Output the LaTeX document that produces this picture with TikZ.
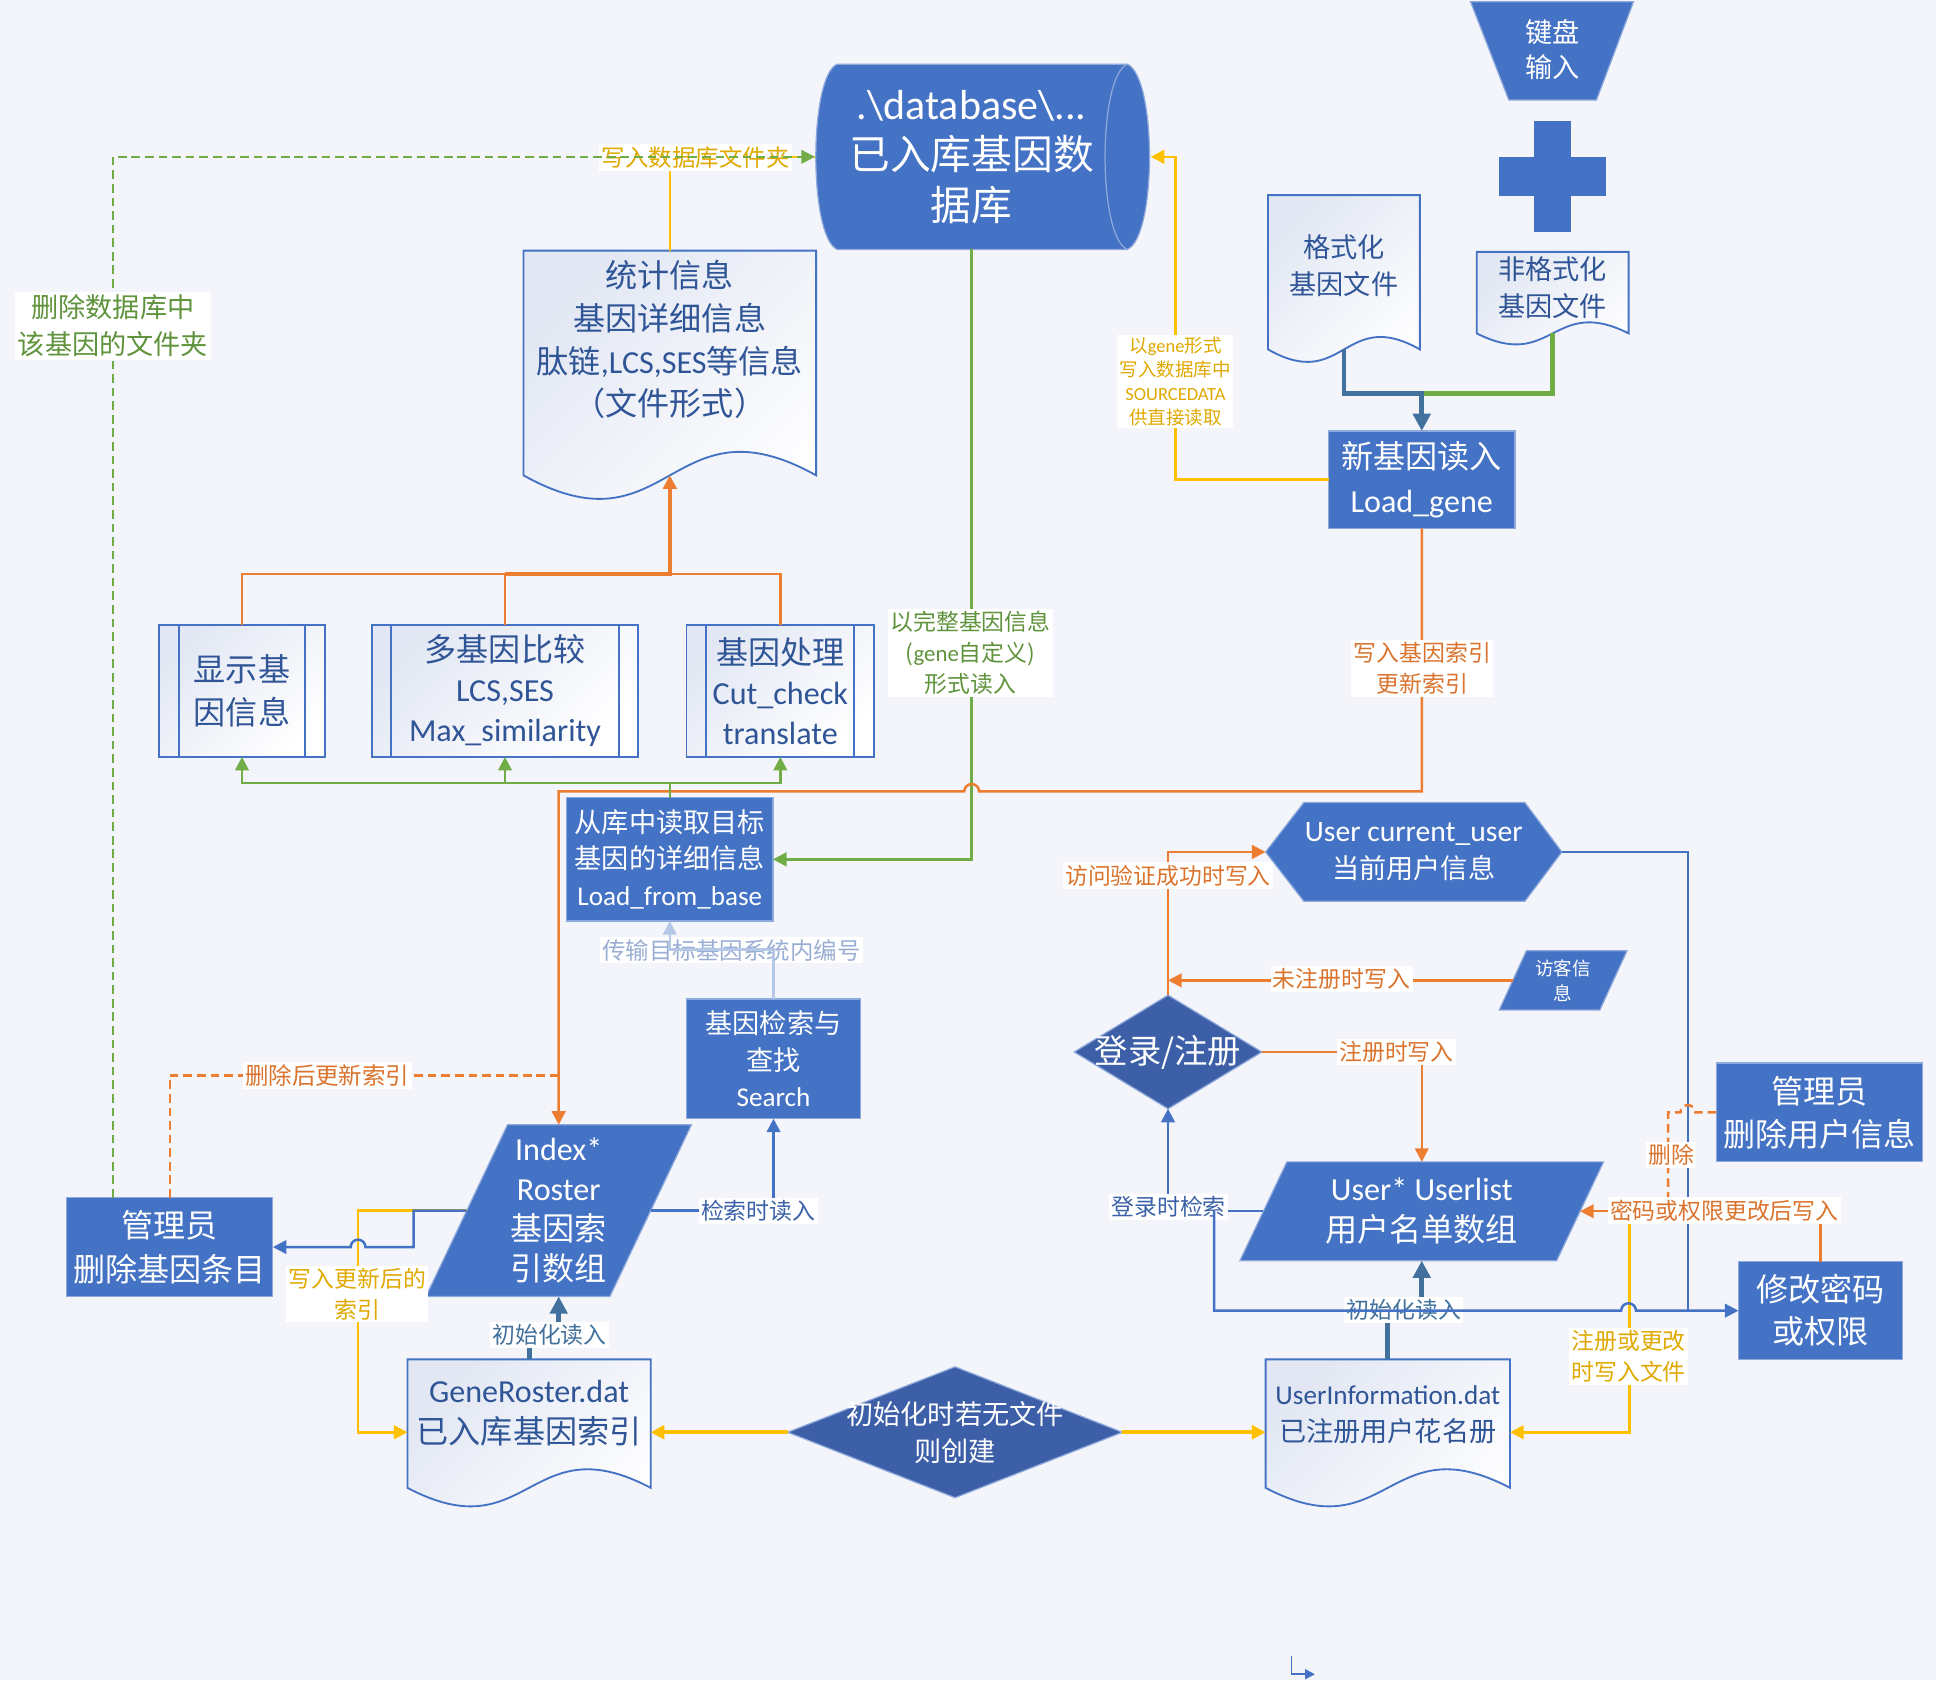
\documentclass[tikz,border=0pt]{standalone}
\usepackage{fontspec}
\setmainfont{Noto Sans CJK SC}
\newfontfamily\latf{Carlito}
\usetikzlibrary{arrows.meta,calc}
\definecolor{cblue}{HTML}{4472C4}
\definecolor{cdia}{HTML}{3D5FA7}
\definecolor{csteel}{HTML}{41719C}
\definecolor{corange}{HTML}{ED7D31}
\definecolor{cyellow}{HTML}{FFC000}
\definecolor{cgreen}{HTML}{70AD47}
\definecolor{ctext}{HTML}{2F5597}
\definecolor{clight}{HTML}{B4C7E7}
\definecolor{clighttext}{HTML}{9AAED4}
\definecolor{cbg}{HTML}{F3F5FA}
\definecolor{docg}{HTML}{E2E7F3}
\definecolor{cedge}{HTML}{8EA9DB}
\newcommand\fsz[2]{\fontsize{#1pt}{#2pt}\selectfont}
\newcommand\la[1]{{\latf #1}}
\pgfdeclarelayer{bglayer}
\pgfdeclarelayer{shapelayer}
\pgfsetlayers{bglayer,shapelayer,main}
\newcommand\docshape[2]{\path[docsty] (#1.north west) -- (#1.north east) -- (#1.south east) .. controls ($(#1.south)+(0,-#2)$) and ($(#1.south)+(0,#2)$) .. (#1.south west) -- cycle;}
\newcommand\parashape[3]{\path[fill=#3, draw=cedge, line width=1pt] ($(#1.north west)+(#2,0)$) -- ($(#1.north east)+(#2,0)$) -- ($(#1.south east)+(-#2,0)$) -- ($(#1.south west)+(-#2,0)$) -- cycle;}
\newcommand\diashape[1]{\path[fill=cdia, draw=cedge, line width=1pt] (#1.west) -- (#1.north) -- (#1.east) -- (#1.south) -- cycle;}
\newcommand\ppinner[1]{\draw[cblue, line width=1.5pt] ($(#1.north west)+(16,0)$) -- ($(#1.south west)+(16,0)$) ($(#1.north east)+(-16,0)$) -- ($(#1.south east)+(-16,0)$);}
\tikzset{
  docsty/.style={draw=cblue, line width=1.5pt, top color=docg, middle color=white, bottom color=white, shading angle=45},
  bbox/.style={rectangle, fill=cblue, draw=cedge, line width=1pt, text=white, align=center},
  pbox/.style={rectangle, draw=cblue, line width=1.5pt, top color=docg, middle color=white, bottom color=white, shading angle=45, text=ctext, align=center},
  hold/.style={rectangle},
  wtext/.style={text=white, align=center},
  dtext/.style={text=ctext, align=center},
  arr/.style={-{Triangle[length=11pt,width=11pt]}},
  arrbig/.style={-{Triangle[length=14pt,width=14pt]}},
  org/.style={draw=corange, line width=2pt},
  orgthick/.style={draw=corange, line width=3.5pt},
  odash/.style={draw=corange, line width=2pt, dash pattern=on 7pt off 4pt},
  gdash/.style={draw=cgreen, line width=2pt, dash pattern=on 7pt off 4pt},
  grn/.style={draw=cgreen, line width=2pt},
  grnthick/.style={draw=cgreen, line width=4pt},
  yel/.style={draw=cyellow, line width=2pt},
  yelthick/.style={draw=cyellow, line width=3pt},
  blu/.style={draw=cblue, line width=2pt},
  stl/.style={draw=csteel, line width=4pt},
  lblue/.style={draw=clight, line width=2pt},
  lbl/.style={fill=white, inner sep=2pt, align=center, font=\fsz{18.5}{25}},
}
\begin{document}
\begin{tikzpicture}[x=1pt, y=-1pt, every node/.style={inner sep=0pt, outer sep=0pt}]
\begin{pgfonlayer}{bglayer}
\fill[cbg] (0,0) rectangle (1568,1360.7);
\end{pgfonlayer}
\useasboundingbox (0,0) rectangle (1568,1360.7);

% ---------------- nodes ----------------
\node[hold, wtext, minimum width=218pt, minimum height=150pt, font=\fsz{33}{41}] (db) at (787,127)
  {{\latf\fsz{34}{41}.\textbackslash database\textbackslash ...}\\已入库基因数\\据库};
\node[wtext, font=\fsz{22}{28}] (kb) at (1257.5,40) {键盘\\输入};

\node[hold, minimum width=123pt, minimum height=125pt] (fmt) at (1088.5,220.5) {};
\node[dtext, font=\fsz{22}{30}] (fmtt) at (1088.5,215) {格式化\\基因文件};
\node[hold, minimum width=123pt, minimum height=66pt] (nf) at (1257.5,237) {};
\node[dtext, font=\fsz{22}{30}] (nft) at (1257.5,233) {非格式化\\基因文件};

\node[bbox, minimum width=151pt, minimum height=79pt, font=\fsz{26}{35}] (lg) at (1151.5,388.5) {新基因读入\\\la{Load\_gene}};

\node[hold, minimum width=237pt, minimum height=182pt] (sd) at (542.5,294) {};
\node[dtext, font=\fsz{26}{34.7}] (sdt) at (542.5,275) {统计信息\\基因详细信息\\肽链\la{,LCS,SES}等信息\\（文件形式）};

\node[pbox, minimum width=134pt, minimum height=107pt, font=\fsz{26}{35}] (sh) at (196,559.5) {显示基\\因信息};
\node[pbox, minimum width=216pt, minimum height=107pt, font=\fsz{26}{32.5}] (mu) at (409,559.5) {多基因比较\\\la{LCS,SES}\\\la{Max\_similarity}};
\node[pbox, minimum width=152pt, minimum height=107pt, font=\fsz{26}{32.5}] (pr) at (632,559.5) {基因处理\\\la{Cut\_check}\\\la{translate}};

\node[bbox, minimum width=167pt, minimum height=100pt, font=\fsz{22}{29.5}] (lfb) at (542.5,696) {从库中读取目标\\基因的详细信息\\\la{Load\_from\_base}};
\node[bbox, minimum width=141pt, minimum height=97pt, font=\fsz{22}{29.5}] (se) at (626.5,857.5) {基因检索与\\查找\\\la{Search}};

\node[hold, wtext, minimum width=149pt, minimum height=139pt, font=\fsz{26}{32.3}] (idx) at (452.5,980.5) {\la{Index*}\\\la{Roster}\\基因索\\引数组};
\node[bbox, minimum width=167pt, minimum height=80pt, font=\fsz{26}{36}] (adg) at (137.5,1010) {管理员\\删除基因条目};

\node[hold, minimum width=197pt, minimum height=104pt] (gr) at (428.5,1153) {};
\node[dtext, font=\fsz{26}{33}] (grt) at (428.5,1144.5) {\la{GeneRoster.dat}\\已入库基因索引};
\node[hold, wtext, minimum width=271pt, minimum height=106pt, font=\fsz{22}{30}] (dia) at (773.5,1160) {初始化时若无文件\\则创建};
\node[hold, minimum width=198pt, minimum height=104pt] (ui) at (1124,1153) {};
\node[dtext, font=\fsz{22}{30}] (uit) at (1124,1146) {\la{UserInformation.dat}\\已注册用户花名册};

\node[hold, wtext, minimum width=240pt, minimum height=80pt, font=\fsz{22}{30}] (cu) at (1145,690) {\la{\fsz{24}{30}User current\_user}\\当前用户信息};
\node[hold, wtext, minimum width=81.5pt, minimum height=48pt, font=\fsz{15}{20}] (gu) at (1266,794) {访客信\\息};
\node[hold, wtext, minimum width=152pt, minimum height=92pt, font=\fsz{27}{30}] (ld) at (946,852) {登录/注册};
\node[hold, wtext, minimum width=256.5pt, minimum height=80pt, font=\fsz{26}{33}] (ul) at (1151.5,981) {\la{User* Userlist}\\用户名单数组};
\node[bbox, minimum width=167pt, minimum height=80pt, font=\fsz{26}{35}] (adu) at (1473.5,901) {管理员\\删除用户信息};
\node[bbox, minimum width=133pt, minimum height=79pt, font=\fsz{26}{34}] (mp) at (1474.5,1061.5) {修改密码\\或权限};

\coordinate (sa1) at (1046,1341);
\coordinate (sa2) at (1065,1356);

% ---------------- shapes ----------------
\begin{pgfonlayer}{shapelayer}
% database
\path[fill=cblue, draw=cedge, line width=1pt] (db.north west) -- ($(db.north east)+(17,0)$)
  .. controls ($(db.north east)+(41,10)$) and ($(db.south east)+(41,-10)$) .. ($(db.south east)+(17,0)$)
  -- (db.south west) .. controls ($(db.south west)+(-23,-10)$) and ($(db.north west)+(-23,10)$) .. (db.north west) -- cycle;
\draw[cedge, line width=1pt] ($(db.north east)+(17,0)$) .. controls ($(db.north east)+(-7,10)$) and ($(db.south east)+(-7,-10)$) .. ($(db.south east)+(17,0)$);
% keyboard
\path[fill=cblue, draw=cedge, line width=1pt] (1191,1.4) -- (1323,1.4) -- (1293,81) -- (1222,81) -- cycle;
% plus
\fill[cblue] (1242,98) rectangle (1272,188);
\fill[cblue] (1214,127) rectangle (1301,159);
% documents
\docshape{fmt}{35}
\docshape{nf}{31}
\docshape{sd}{66}
\docshape{gr}{52}
\docshape{ui}{52}
% parallelograms
\parashape{idx}{33}{cblue}
\parashape{ul}{19}{cblue}
\parashape{gu}{11}{cblue}
% diamonds
\diashape{dia}
\diashape{ld}
% hexagon
\path[fill=cblue, draw=cedge, line width=1pt] (cu.west) -- ($(cu.north west)+(31,0)$) -- ($(cu.north east)+(-30,0)$) -- (cu.east) -- ($(cu.south east)+(-30,0)$) -- ($(cu.south west)+(31,0)$) -- cycle;
\end{pgfonlayer}
\ppinner{sh}
\ppinner{mu}
\ppinner{pr}

% ---------------- connectors ----------------
\draw[grnthick] (nf.south) |- ($(lg.north)+(0,-30)$);
\draw[stl, arrbig] (fmt.south) -- ++(0,36) -| (lg.north);

\draw[yel, arr] (lg.west) -| ($(db.east)+(56,0)$) -- ($(db.east)+(36,0)$);
\draw[yel] (sd.north) |- ($(db.west)+(-18,0)$);

\draw[grn, arr] (db.south) |- (lfb.east);
\draw[org, arr] (lg.south) -- (1151.5,641) -- (793,641) arc (0:-180:6) -- (452.5,641) -- (idx.north);

\draw[org] (sh.north) -- ++(0,-41) -| (pr.north);
\draw[org] (mu.north) -- ++(0,-41);
\draw[orgthick, arr] ($(mu.north)+(0,-41)$) -| (sd.south);

\draw[grn] (lfb.north) -- ++(0,-12);
\draw[grn, arr] ($(lfb.north)+(0,-12)$) -| (sh.south);
\draw[grn, arr] ($(lfb.north)+(0,-12)$) -| (mu.south);
\draw[grn, arr] ($(lfb.north)+(0,-12)$) -| (pr.south);

\draw[blu, arr] (idx.east) -| (se.south);
\draw[yel, arr] (idx.west) -- (290,980.5) |- ($(gr.west)+(0,7)$);
\draw[blu, arr] (idx.west) -- ++(-43,0) -- ++(0,29.5) -- (296,1010) arc (0:-180:6) -- (adg.east);
\draw[odash] ($(idx.north)+(0,-40)$) -| (adg.north);
\draw[stl, arrbig] (gr.north) -- ++(0,-20) -| (idx.south);

\draw[yelthick, arr] (dia.west) -- ($(gr.east)+(0,7)$);
\draw[yelthick, arr] (dia.east) -- ($(ui.west)+(0,7)$);
\draw[stl, arrbig] (ui.north) -- ++(0,-40) -| (ul.south);

\draw[blu, arr] (ul.west) -| (ld.south);
\draw[blu] (cu.east) -| ($(mp.west)+(-41,0)$);
\draw[org, arr] (ld.north) |- (cu.west);
\draw[org, arr] (gu.west) -- (ld.north |- gu.west);
\draw[org, arr] (ld.east) -| (ul.north);
\draw[yel, arr] ($(ul.east)+(40,0)$) |- ($(ui.east)+(0,7)$);
\draw[org, arr] (mp.north) |- (ul.east);
\draw[odash] (adu.west) -- (1373,901) arc (0:-180:6) -- (1351,901) -- (1351,976);

\draw[blu, line width=1.5pt, -{Triangle[length=8pt,width=8pt]}] (sa1) |- (sa2);

% ---------------- labels ----------------
\node[lbl, text=cyellow!88!black, font=\fsz{19}{25}] (l1) at (563.5,127.5) {写入数据库文件夹};
\draw[gdash, arr] ($(adg.north)+(-46,0)$) |- ($(db.west)+(-18,0)$);
\node[lbl, text=cgreen!85!black, font=\fsz{22}{30}] (l2) at (91.5,264) {删除数据库中\\该基因的文件夹};
\node[lbl, text=cyellow!88!black, font=\fsz{15}{19.3}] (l3) at (952,309) {以\la{gene}形式\\写入数据库中\\\la{SOURCEDATA}\\供直接读取};
\node[lbl, text=corange!92!black] (l4) at (1152,541.5) {写入基因索引\\更新索引};
\node[lbl, text=cgreen!85!black] (l5) at (786,528.5) {以完整基因信息\\(\la{gene}自定义)\\形式读入};
\node[lbl, text=clighttext, font=\fsz{19}{25}] (l6) at (592.5,769.5) {传输目标基因系统内编号};
\draw[lblue, arr] (se.north) -- ++(0,-40) -| (lfb.south);
\node[lbl, text=corange!92!black, font=\fsz{19}{25}] (l7) at (265,871) {删除后更新索引};
\node[lbl, text=cblue!85!black] (l8) at (614,980.5) {检索时读入};
\node[lbl, text=cyellow!88!black] (l9) at (289.5,1048) {写入更新后的\\索引};
\node[lbl, text=csteel] (l10) at (445,1081) {初始化读入};
\node[lbl, text=corange!92!black] (l11) at (946,709) {访问验证成功时写入};
\node[lbl, text=corange!92!black] (l12) at (1086.5,793) {未注册时写入};
\node[lbl, text=corange!92!black] (l13) at (1131,852) {注册时写入};
\node[lbl, text=cblue!85!black] (l14) at (946.5,977.5) {登录时检索};
\node[lbl, text=csteel] (l15) at (1137,1061) {初始化读入};
\draw[blu, arr] ($(ul.west)+(-40,0)$) -- ++(0,80.5) -- (1313,1061.5) arc (180:360:6) -- (mp.west);
\node[lbl, text=corange!92!black] (l16) at (1396.5,980.5) {密码或权限更改后写入};
\node[lbl, text=corange!92!black] (l17) at (1353.5,935.5) {删除};
\node[lbl, text=cyellow!88!black] (l18) at (1319,1098.5) {注册或更改\\时写入文件};
\end{tikzpicture}
\end{document}
